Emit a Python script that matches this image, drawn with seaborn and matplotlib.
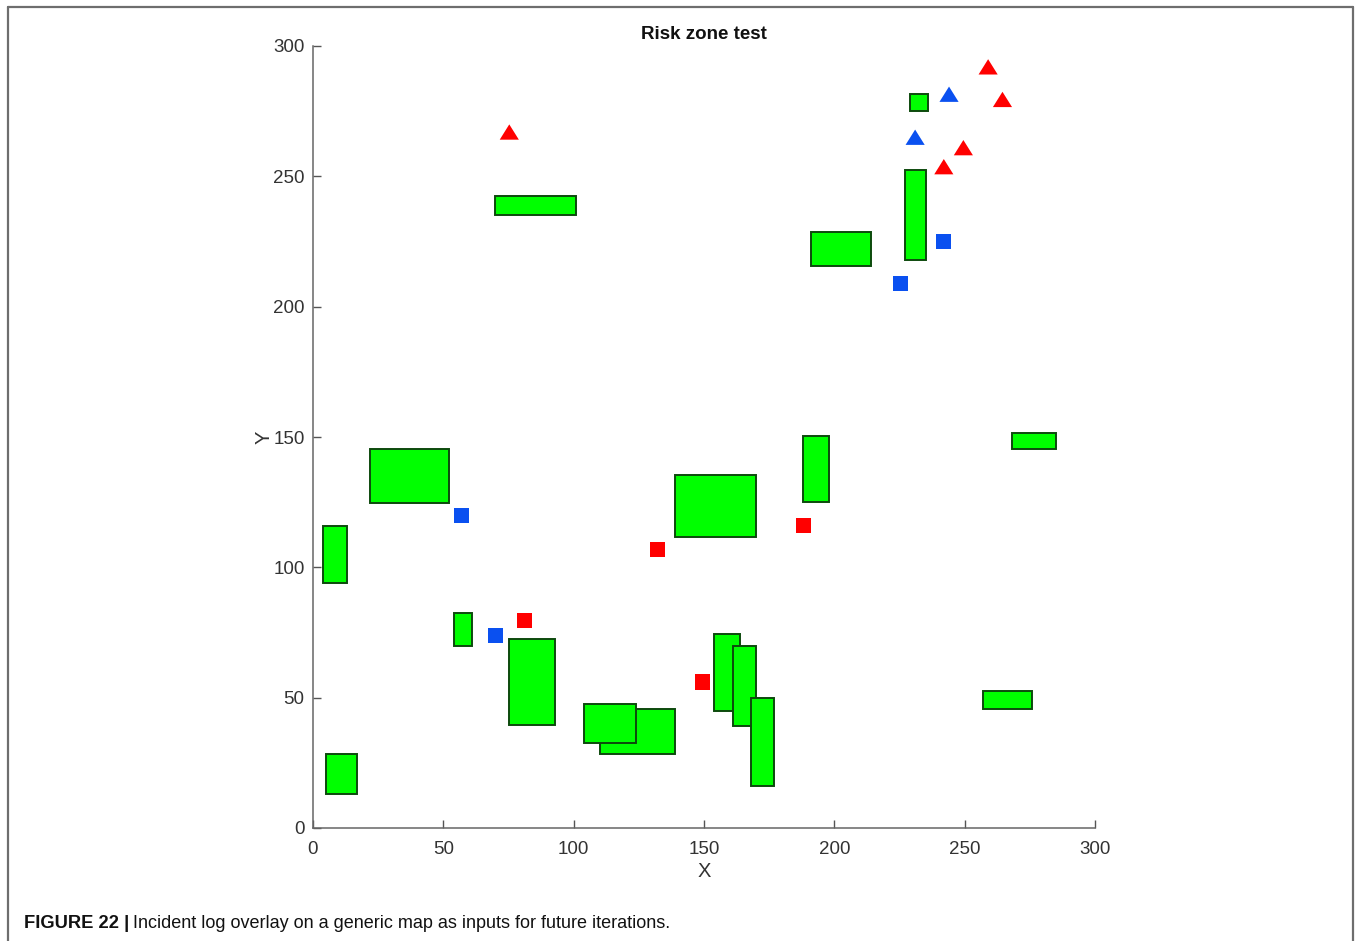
import matplotlib
matplotlib.use("Agg")
import matplotlib.pyplot as plt
from matplotlib.patches import Rectangle
from matplotlib.lines import Line2D
import seaborn as sns
import pandas as pd

# Obstacle zones on the map: left, bottom, width, height
zone_x = [4, 22, 54, 5, 70, 75, 110, 104, 139, 188, 154, 161, 168, 191, 227, 229, 268, 257]
zone_y = [94, 124.5, 70, 13, 235, 39.5, 28.5, 32.5, 111.5, 125, 45, 39, 16, 215.5, 218, 275, 145.5, 45.5]
zone_w = [9, 30, 7, 12, 31, 18, 29, 20, 31, 10, 10, 9, 9, 23, 8, 7, 17, 19]
zone_h = [22, 21, 12.5, 15.5, 7.5, 33, 17, 15, 24, 25.5, 29.5, 31, 34, 13, 34.5, 6.5, 6, 7]

# Logged incidents (squares)
sq_x = [57, 70, 242, 225.5, 81, 132, 188, 149.5]
sq_y = [120, 74, 225, 209, 79.5, 107, 116, 56]
sq_level = ["low", "low", "low", "low", "high", "high", "high", "high"]

# Logged incidents (triangles)
tri_x = [244, 231, 75.3, 259, 264.5, 249.5, 242]
tri_y = [281.5, 265, 267, 292, 279.5, 261, 253.7]
tri_level = ["low", "low", "high", "high", "high", "high", "high"]

x_ticks = [0, 50, 100, 150, 200, 250, 300]
y_ticks = [0, 50, 100, 150, 200, 250, 300]

palette = {"high": "#ff0000", "low": "#0a50f0"}

sns.set_style("white")
plt.rcParams["font.family"] = ["Liberation Sans", "DejaVu Sans"]

fig = plt.figure(figsize=(13.56, 9.41), dpi=100)
ax = fig.add_axes([313 / 1356, 1 - 828 / 941, 782 / 1356, 782 / 941])

for x, y, w, h in zip(zone_x, zone_y, zone_w, zone_h):
    ax.add_patch(Rectangle((x, y), w, h, facecolor="#00ff00",
                           edgecolor="#0d4a0d", linewidth=1.4, zorder=2))

squares = pd.DataFrame({"x": sq_x, "y": sq_y, "level": sq_level})
triangles = pd.DataFrame({"x": tri_x, "y": tri_y, "level": tri_level})

sns.scatterplot(data=squares, x="x", y="y", hue="level", palette=palette,
                marker="s", s=118, linewidth=0, legend=False, ax=ax, zorder=3)
tri_marker = [(0, 0.8), (-1, -0.8), (1, -0.8), (0, 0.8)]
sns.scatterplot(data=triangles, x="x", y="y", hue="level", palette=palette,
                marker=tri_marker, s=190, linewidth=0, legend=False, ax=ax, zorder=3)

ax.set_xlim(0, 300)
ax.set_ylim(0, 300)
ax.set_xticks(x_ticks)
ax.set_yticks(y_ticks)
ax.set_xticklabels([str(t) for t in x_ticks])
ax.set_yticklabels([str(t) for t in y_ticks])
ax.tick_params(axis="both", which="major", bottom=True, left=True,
               direction="in", length=6, width=1,
               color="#555555", labelcolor="#333333", labelsize=13.5)
ax.tick_params(axis="x", pad=9)
ax.tick_params(axis="y", pad=6)
for side in ["top", "right"]:
    ax.spines[side].set_visible(False)
for side in ["left", "bottom"]:
    ax.spines[side].set_color("#666666")
    ax.spines[side].set_linewidth(1.1)

ax.set_xlabel("X", fontsize=14.5, color="#333333", labelpad=3)
ax.set_ylabel("Y", fontsize=14.5, color="#333333", labelpad=0)
ax.set_title("Risk zone test", fontsize=13.5, fontweight="bold", color="#111111", pad=5)

# Frame around the figure panel
W, H = 1356, 941
frame_kw = dict(color="#6e6e6e", linewidth=1.6, transform=fig.transFigure)
fig.add_artist(Line2D([8 / W, 1353 / W], [1 - 6.5 / H, 1 - 6.5 / H], **frame_kw))
fig.add_artist(Line2D([8 / W, 8 / W], [1 - 6.5 / H, 0], **frame_kw))
fig.add_artist(Line2D([1353 / W, 1353 / W], [1 - 6.5 / H, 0], **frame_kw))

# Caption
cap_y = 1 - 924 / H
t1 = fig.text(24 / W, cap_y, "FIGURE 22 |", fontsize=13.2, fontweight="bold",
              color="#111111", va="center", ha="left")
fig.canvas.draw()
bb = t1.get_window_extent()
fig.text((bb.x1 + 4) / W, cap_y,
         "Incident log overlay on a generic map as inputs for future iterations.",
         fontsize=13, color="#111111", va="center", ha="left")

fig.savefig("out.png", dpi=100)
